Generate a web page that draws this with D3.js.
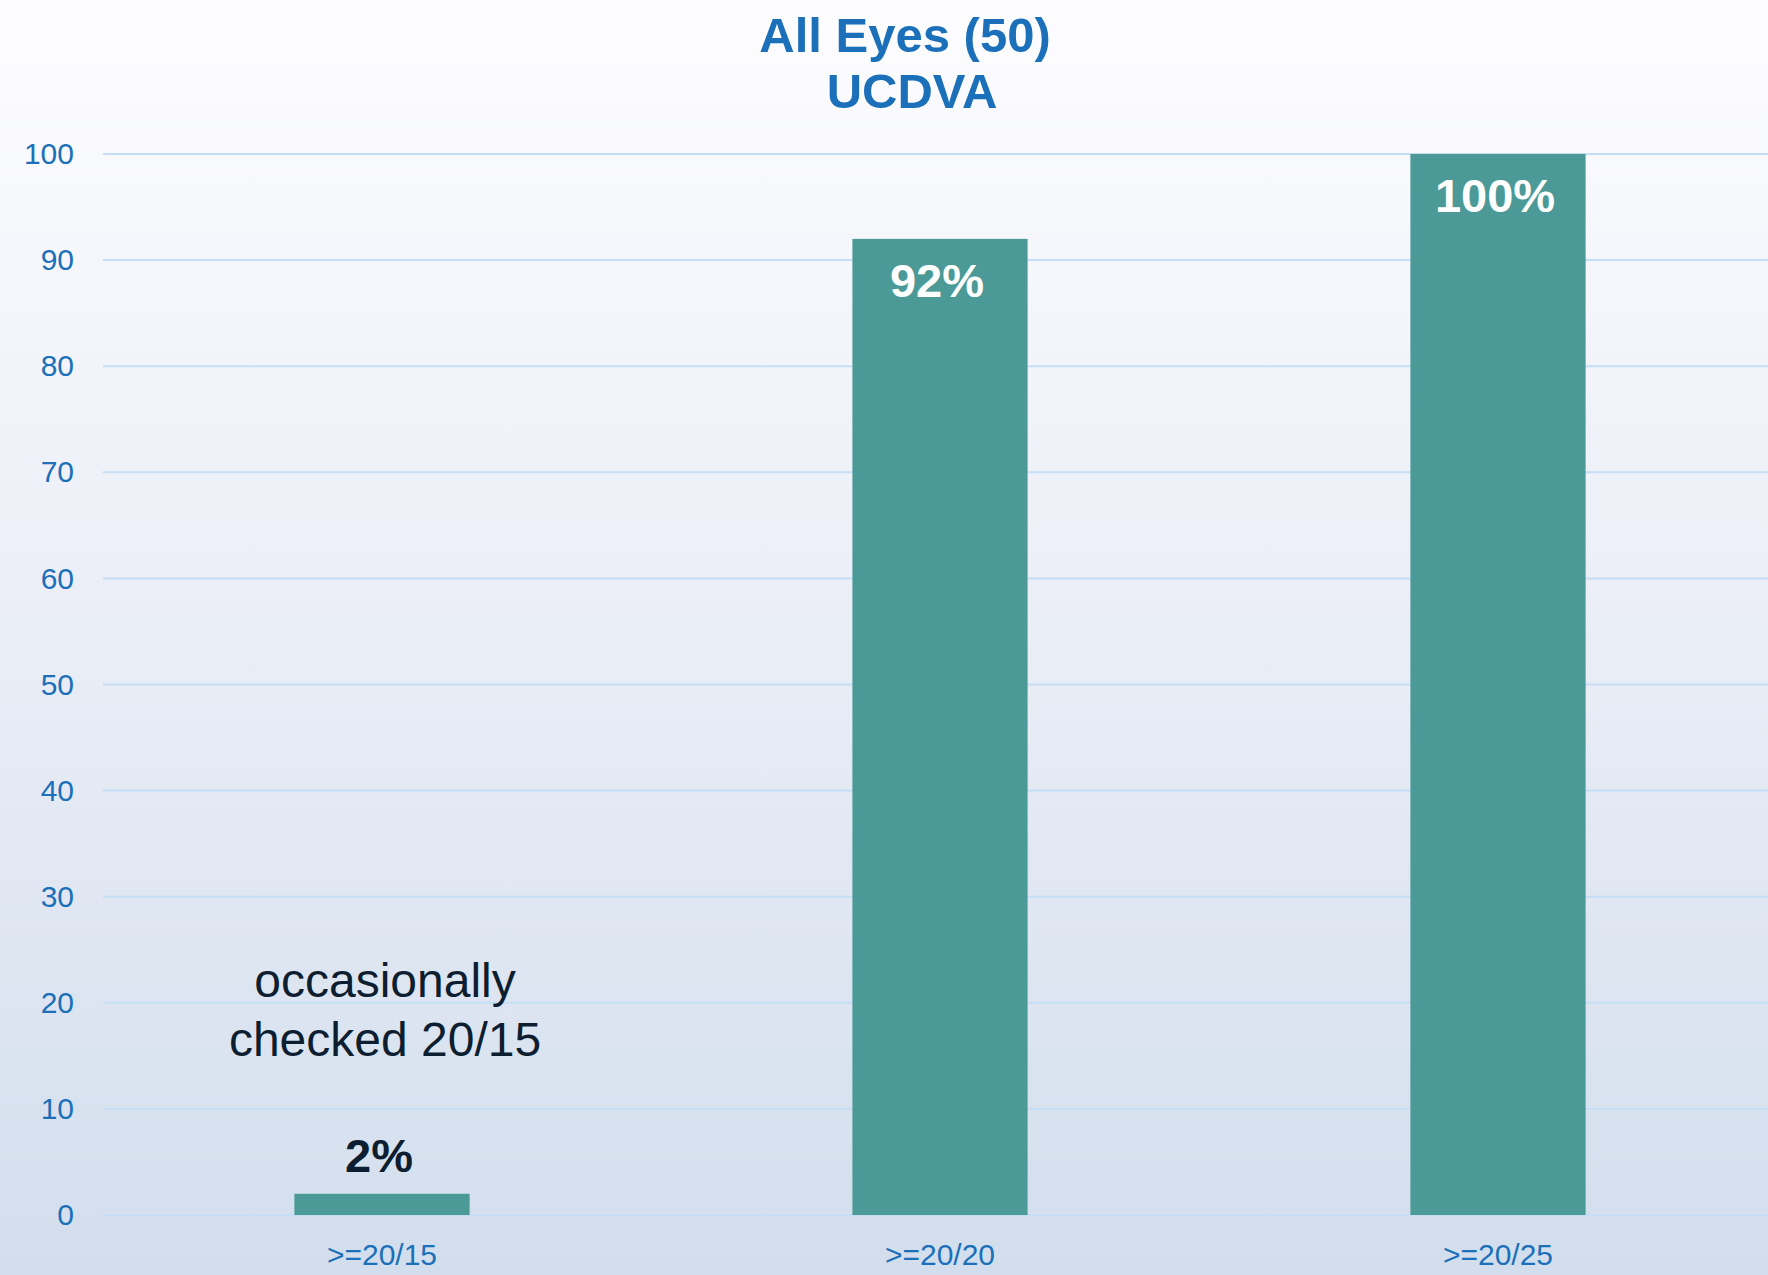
<!DOCTYPE html>
<html>
<head>
<meta charset="utf-8">
<script src="https://cdn.jsdelivr.net/npm/d3@7"></script>
<style>
  html, body { margin: 0; padding: 0; }
  body { width: 1768px; height: 1275px; overflow: hidden; }
  svg { display: block; }
</style>
</head>
<body>
<svg id="chart" width="1768" height="1275"></svg>
<script>
// Share of eyes reaching each uncorrected distance visual acuity level
const categories = [">=20/15", ">=20/20", ">=20/25"];
const values = [2, 92, 100];
const valueLabels = ["2%", "92%", "100%"];
const yTicks = [0, 10, 20, 30, 40, 50, 60, 70, 80, 90, 100];
const titleLines = ["All Eyes (50)", "UCDVA"];
const noteLines = ["occasionally", "checked 20/15"];

const W = 1768, H = 1275;
const margin = { top: 154, left: 103, bottom: H - 1215 };
const font = "'Liberation Sans', Arial, sans-serif";
const blue = "#1b70b9";
const barColor = "#4b9a98";

const svg = d3.select("#chart");

// background wash: near white at top fading to pale blue-grey
const defs = svg.append("defs");
const grad = defs.append("linearGradient")
  .attr("id", "bg").attr("x1", 0).attr("y1", 0).attr("x2", 0).attr("y2", 1);
grad.append("stop").attr("offset", "0%").attr("stop-color", "#fdfdff");
grad.append("stop").attr("offset", "45%").attr("stop-color", "#eceff7");
grad.append("stop").attr("offset", "100%").attr("stop-color", "#d2deed");
svg.append("rect").attr("width", W).attr("height", H).attr("fill", "url(#bg)");

const x = d3.scaleBand()
  .domain(categories)
  .range([margin.left, 1777])
  .paddingInner(0.686)
  .paddingOuter(0.343);

const y = d3.scaleLinear()
  .domain([0, 100])
  .range([H - margin.bottom, margin.top]);

// horizontal gridlines
svg.append("g")
  .selectAll("line")
  .data(yTicks)
  .join("line")
  .attr("x1", margin.left)
  .attr("x2", W)
  .attr("y1", d => y(d))
  .attr("y2", d => y(d))
  .attr("stroke", "#c6def5")
  .attr("stroke-width", 2);

// y axis labels
const yAxis = svg.append("g")
  .attr("transform", `translate(${margin.left},0)`)
  .call(d3.axisLeft(y).tickValues(yTicks).tickSize(0).tickPadding(29));
yAxis.select(".domain").remove();
yAxis.selectAll("text")
  .attr("fill", blue)
  .style("font-family", font)
  .style("font-size", "30px");

// x axis labels
const xAxis = svg.append("g")
  .attr("transform", `translate(0,${y(0)})`)
  .call(d3.axisBottom(x).tickSize(0).tickPadding(29));
xAxis.select(".domain").remove();
xAxis.selectAll("text")
  .attr("fill", blue)
  .style("font-family", font)
  .style("font-size", "30px");

// bars
svg.append("g")
  .selectAll("rect")
  .data(values)
  .join("rect")
  .attr("x", (d, i) => x(categories[i]))
  .attr("width", x.bandwidth())
  .attr("y", d => y(d))
  .attr("height", d => y(0) - y(d))
  .attr("fill", barColor);

// value labels: inside the bar end when tall enough, above it otherwise
svg.append("g")
  .selectAll("text")
  .data(values)
  .join("text")
  .attr("x", (d, i) => x(categories[i]) + x.bandwidth() / 2 - 3)
  .attr("y", d => d > 10 ? y(d) + 58 : y(d) - 22)
  .attr("text-anchor", "middle")
  .attr("fill", d => d > 10 ? "#ffffff" : "#0d1e30")
  .style("font-family", font)
  .style("font-size", "47px")
  .style("font-weight", "bold")
  .text((d, i) => valueLabels[i]);

// note above the first bar
const noteX = x(categories[0]) + x.bandwidth() / 2 + 3;
svg.append("text")
  .attr("x", noteX)
  .attr("y", 997)
  .attr("text-anchor", "middle")
  .attr("fill", "#0d1e30")
  .style("font-family", font)
  .style("font-size", "48px")
  .selectAll("tspan")
  .data(noteLines)
  .join("tspan")
  .attr("x", noteX)
  .attr("dy", (d, i) => i === 0 ? 0 : 59)
  .text(d => d);

// title
svg.append("text")
  .attr("x", 907)
  .attr("y", 52)
  .attr("text-anchor", "middle")
  .attr("fill", blue)
  .style("font-family", font)
  .style("font-size", "49px")
  .style("font-weight", "bold")
  .selectAll("tspan")
  .data(titleLines)
  .join("tspan")
  .attr("x", (d, i) => i === 0 ? 905 : 912)
  .attr("dy", (d, i) => i === 0 ? 0 : 56)
  .text(d => d);
</script>
</body>
</html>
